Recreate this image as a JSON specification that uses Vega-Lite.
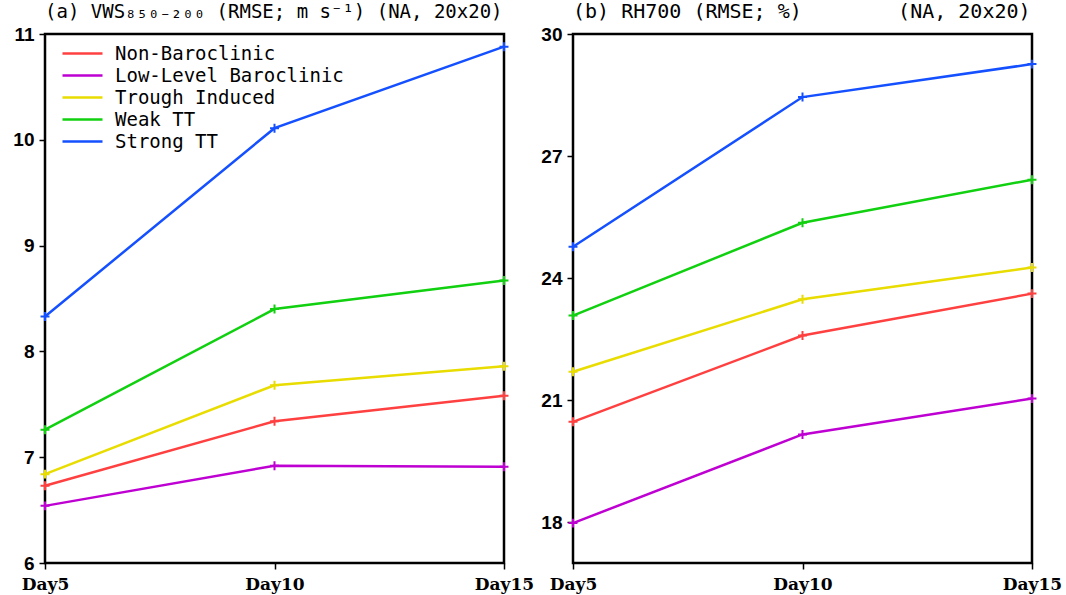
{
  "$schema": "https://vega.github.io/schema/vega-lite/v6.json",
  "padding": {"left": 11, "top": 0, "right": 5, "bottom": 0},
  "background": "white",
  "config": {
    "view": {"stroke": "black", "strokeWidth": 2.5},
    "axis": {"grid": false, "domain": false, "tickColor": "black", "tickSize": 6, "tickWidth": 1.5, "labelColor": "black", "title": null},
    "title": {"font": "DejaVu Sans Mono", "fontSize": 20, "fontWeight": "normal", "anchor": "start", "frame": "group", "offset": 3, "color": "black"}
  },
  "datasets": {
    "vws": [
      {"type": "Non-Baroclinic", "day": 5, "value": 6.73},
      {"type": "Non-Baroclinic", "day": 10, "value": 7.34},
      {"type": "Non-Baroclinic", "day": 15, "value": 7.58},
      {"type": "Low-Level Baroclinic", "day": 5, "value": 6.54},
      {"type": "Low-Level Baroclinic", "day": 10, "value": 6.92},
      {"type": "Low-Level Baroclinic", "day": 15, "value": 6.91},
      {"type": "Trough Induced", "day": 5, "value": 6.84},
      {"type": "Trough Induced", "day": 10, "value": 7.68},
      {"type": "Trough Induced", "day": 15, "value": 7.86},
      {"type": "Weak TT", "day": 5, "value": 7.26},
      {"type": "Weak TT", "day": 10, "value": 8.40},
      {"type": "Weak TT", "day": 15, "value": 8.67},
      {"type": "Strong TT", "day": 5, "value": 8.33},
      {"type": "Strong TT", "day": 10, "value": 10.11},
      {"type": "Strong TT", "day": 15, "value": 10.88}
    ],
    "rh": [
      {"type": "Non-Baroclinic", "day": 5, "value": 20.47},
      {"type": "Non-Baroclinic", "day": 10, "value": 22.59},
      {"type": "Non-Baroclinic", "day": 15, "value": 23.62},
      {"type": "Low-Level Baroclinic", "day": 5, "value": 17.98},
      {"type": "Low-Level Baroclinic", "day": 10, "value": 20.16},
      {"type": "Low-Level Baroclinic", "day": 15, "value": 21.04},
      {"type": "Trough Induced", "day": 5, "value": 21.70},
      {"type": "Trough Induced", "day": 10, "value": 23.48},
      {"type": "Trough Induced", "day": 15, "value": 24.26},
      {"type": "Weak TT", "day": 5, "value": 23.08},
      {"type": "Weak TT", "day": 10, "value": 25.36},
      {"type": "Weak TT", "day": 15, "value": 26.42},
      {"type": "Strong TT", "day": 5, "value": 24.77},
      {"type": "Strong TT", "day": 10, "value": 28.45},
      {"type": "Strong TT", "day": 15, "value": 29.26}
    ]
  },
  "bounds": "flush",
  "spacing": 69,
  "resolve": {"scale": {"color": "independent"}, "legend": {"color": "independent"}},
  "hconcat": [
    {
      "width": 459,
      "height": 529,
      "title": {"text": "(a) VWS₈₅₀₋₂₀₀ (RMSE; m s⁻¹) (NA, 20x20)", "fontSize": 19},
      "data": {"name": "vws"},
      "encoding": {
        "x": {"field": "day", "type": "quantitative", "scale": {"domain": [5, 15], "nice": false}, "axis": {"values": [5, 10, 15], "labelExpr": "'Day' + datum.value", "labelFlush": false, "labelFont": "DejaVu Serif", "labelFontWeight": "bold", "labelFontSize": 17, "labelPadding": 7}},
        "y": {"field": "value", "type": "quantitative", "scale": {"domain": [6, 11], "nice": false, "zero": false}, "axis": {"values": [6, 7, 8, 9, 10, 11], "labelFont": "Liberation Sans", "labelFontWeight": "bold", "labelFontSize": 19, "labelPadding": 5}},
        "color": {
          "field": "type", "type": "nominal",
          "scale": {"domain": ["Non-Baroclinic", "Low-Level Baroclinic", "Trough Induced", "Weak TT", "Strong TT"], "range": ["#ff4040", "#be00d2", "#e8dc00", "#10d010", "#1450ff"]},
          "legend": {"title": null, "orient": "none", "legendX": 26, "legendY": 8, "symbolType": "M-2,0H2", "symbolSize": 400, "symbolStrokeWidth": 2.5, "symbolFillColor": "transparent", "labelFont": "DejaVu Sans Mono", "labelFontSize": 19, "labelOffset": 21, "labelLimit": 400, "rowPadding": 0, "padding": 0, "labelColor": "black"}
        }
      },
      "layer": [
        {"mark": {"type": "line", "strokeWidth": 2.5}},
        {"mark": {"type": "point", "shape": "M-1,0H1M0,-1V1", "filled": false, "size": 80, "strokeWidth": 2, "opacity": 1}}
      ]
    },
    {
      "width": 459,
      "height": 529,
      "title": "(b) RH700 (RMSE; %)\u00a0\u00a0\u00a0\u00a0\u00a0\u00a0\u00a0\u00a0(NA, 20x20)",
      "data": {"name": "rh"},
      "encoding": {
        "x": {"field": "day", "type": "quantitative", "scale": {"domain": [5, 15], "nice": false}, "axis": {"values": [5, 10, 15], "labelExpr": "'Day' + datum.value", "labelFlush": false, "labelFont": "DejaVu Serif", "labelFontWeight": "bold", "labelFontSize": 17, "labelPadding": 7}},
        "y": {"field": "value", "type": "quantitative", "scale": {"domain": [17, 30], "nice": false, "zero": false}, "axis": {"values": [18, 21, 24, 27, 30], "labelFont": "Liberation Sans", "labelFontWeight": "bold", "labelFontSize": 19, "labelPadding": 5}},
        "color": {
          "field": "type", "type": "nominal",
          "scale": {"domain": ["Non-Baroclinic", "Low-Level Baroclinic", "Trough Induced", "Weak TT", "Strong TT"], "range": ["#ff4040", "#be00d2", "#e8dc00", "#10d010", "#1450ff"]},
          "legend": null
        }
      },
      "layer": [
        {"mark": {"type": "line", "strokeWidth": 2.5}},
        {"mark": {"type": "point", "shape": "M-1,0H1M0,-1V1", "filled": false, "size": 80, "strokeWidth": 2, "opacity": 1}}
      ]
    }
  ]
}
